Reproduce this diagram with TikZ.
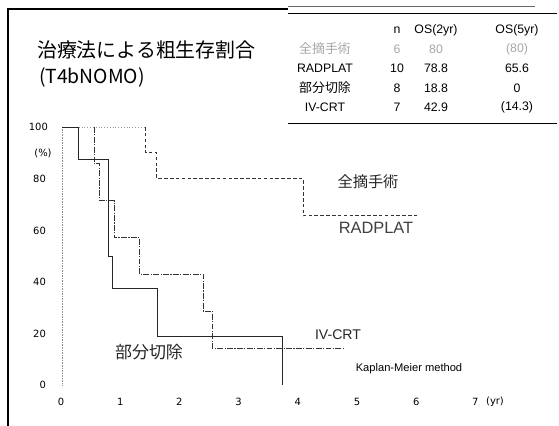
\documentclass[tikz,border=0pt]{standalone}
\usepackage{fontspec}
\setmainfont{Liberation Sans}
\newfontfamily\jp{Noto Sans CJK JP}
\newfontfamily\tickfont{DejaVu Sans}
\tikzset{
  ticklbl/.style={font=\tickfont\fontsize{8.5}{9}\selectfont},
  cell/.style={font=\fontsize{10.5}{11}\selectfont},
  jcell/.style={font=\jp\fontsize{11}{12}\selectfont},
  curvelbl/.style={font=\jp\fontsize{13}{14}\selectfont, text=black!85},
}
\begin{document}
\begin{tikzpicture}[x=0.03cm,y=-0.03cm]
\useasboundingbox (0,0) rectangle (559,426);
% frame
\draw[line width=1.4pt] (8,426) -- (8,9) -- (288,9);
% title
\node[anchor=west,font=\jp\fontsize{17}{18}\selectfont] (title) at (33,50) {治療法による粗生存割合};
\node[anchor=west,font=\jp\fontsize{16.5}{18}\selectfont] (subtitle) at (35,77) {(T4bNOMO)};
% table
\draw[black!60] (288,6) -- (535,6);
\draw[line width=0.8pt] (288,13) -- (557,13);
\draw[line width=0.8pt] (288,123) -- (557,123);
\node[cell] (hn) at (397,30) {n};
\node[cell] (h2) at (436,30) {OS(2yr)};
\node[cell] (h5) at (517,30) {OS(5yr)};
\node[jcell,text=black!35] (r1) at (325,49) {全摘手術};
\node[cell,text=black!35] (r1n) at (397,49) {6};
\node[cell,text=black!35] (r1a) at (436,49) {80};
\node[cell,text=black!35] (r1b) at (517,49) {(80)};
\node[cell] (r2) at (325,68) {RADPLAT};
\node[cell] (r2n) at (397,68) {10};
\node[cell] (r2a) at (436,68) {78.8};
\node[cell] (r2b) at (517,68) {65.6};
\node[jcell] (r3) at (325,88) {部分切除};
\node[cell] (r3n) at (397,88) {8};
\node[cell] (r3a) at (436,88) {18.8};
\node[cell] (r3b) at (517,88) {0};
\node[cell] (r4) at (325,107) {IV-CRT};
\node[cell] (r4n) at (397,107) {7};
\node[cell] (r4a) at (436,107) {42.9};
\node[cell] (r4b) at (517,107) {(14.3)};
% axes labels
\node[ticklbl,anchor=east] (y100) at (52,127) {100};
\node[ticklbl] (ypct) at (43,153) {(\%)};
\foreach \v/\py in {80/179,60/231,40/282,20/334,0/385}
  \node[ticklbl,anchor=east] (y\v) at (50,\py) {\v};
\foreach \t in {0,...,7}
  \node[ticklbl] (x\t) at ({61+59.2*\t},402) {\t};
\node[ticklbl] (xyr) at (495,402) {(yr)};
\draw[black!45,densely dotted] (62,127) -- (62,386);
% curves
\begin{scope}[shift={(62,385)},x=1.776cm,y=0.0774cm]
\draw[black!40,dotted] (0,100) -- (1.41,100);
\draw[black!80,densely dashed,line width=0.7pt] (1.41,100) -- (1.41,90) -- (1.6,90) -- (1.6,80) -- (4.07,80) -- (4.07,65.6) -- (6.0,65.6);
\draw[black!85,line width=0.7pt] (0,100) -- (0.27,100) -- (0.27,87.5) -- (0.78,87.5) -- (0.78,50) -- (0.85,50) -- (0.85,37.5) -- (1.61,37.5) -- (1.61,18.8) -- (3.73,18.8) -- (3.73,0);
\draw[black!80,line width=0.7pt,dash pattern=on 5pt off 1.2pt on 1pt off 1.2pt] (0.54,100) -- (0.54,85.7) -- (0.64,85.7) -- (0.64,71.4) -- (0.88,71.4) -- (0.88,57.1) -- (1.31,57.1) -- (1.31,42.9) -- (2.39,42.9) -- (2.39,28.6) -- (2.54,28.6) -- (2.54,14.3) -- (4.76,14.3);
\end{scope}
% curve labels
\node[curvelbl] (lzen) at (368,182) {全摘手術};
\node[font=\fontsize{14}{15}\selectfont,text=black!75] (lrad) at (376,228) {RADPLAT};
\node[font=\fontsize{12}{13}\selectfont,text=black!85] (liv) at (338,335) {IV-CRT};
\node[curvelbl,font=\jp\fontsize{14.5}{15}\selectfont] (lbub) at (149,352) {部分切除};
\node[font=\fontsize{9.5}{10}\selectfont] (lkm) at (409,369) {Kaplan-Meier method};
\end{tikzpicture}
\end{document}
